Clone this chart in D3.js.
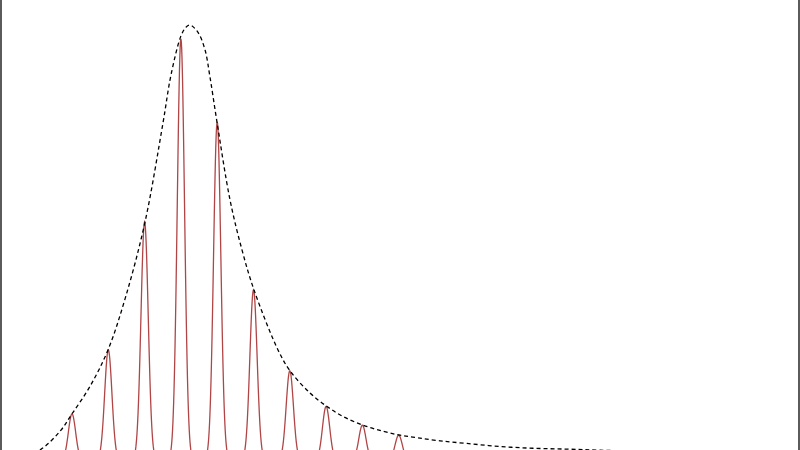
<!DOCTYPE html>
<html>
<head>
<meta charset="utf-8">
<script src="https://cdn.jsdelivr.net/npm/d3@7"></script>
<style>
  html, body { margin: 0; padding: 0; background: #fff; overflow: hidden; }
  svg { display: block; }
</style>
</head>
<body>
<svg id="chart" width="800" height="450"></svg>
<script>
// Rotational line positions (J) and their peak intensities (normalised)
const lineJ = [1, 2, 3, 4, 5, 6, 7, 8, 9, 10, 11];
const lineIntensity = [0.007, 0.106, 0.253, 0.547, 0.968, 0.777, 0.391, 0.205, 0.123, 0.080, 0.057];
const lineWidth = 0.1; // gaussian sigma in J units

// Envelope
const envJ = [0.0, 0.567, 1.118, 1.669, 2.0, 2.5, 2.992, 3.488, 4.011, 4.507, 4.727, 5.003, 5.140, 5.250,
  5.471, 5.664, 5.802, 5.994, 6.353, 6.683, 7.014, 7.675, 8.006, 8.557, 9.025, 9.466, 10.017, 10.568,
  11.036, 11.532, 12.138, 12.882, 13.791, 14.700, 15.636, 16.545, 17.92, 19.3, 22.05];
const envI = [0.001, 0.006, 0.023, 0.066, 0.106, 0.170, 0.253, 0.378, 0.547, 0.775, 0.885, 0.975, 0.995, 1.0,
  0.983, 0.943, 0.880, 0.777, 0.598, 0.483, 0.391, 0.253, 0.205, 0.154, 0.123, 0.100, 0.080, 0.066,
  0.057, 0.051, 0.044, 0.038, 0.031, 0.027, 0.025, 0.0225, 0.0195, 0.017, 0.014];

const svg = d3.select("#chart");
const W = 800, H = 450;

const x = d3.scaleLinear().domain([0, 22]).range([-0.6, 798]);
const y = d3.scaleLinear().domain([0, 1]).range([460, 25]);

// spectrum trace: sum of gaussian lines sampled along J
const samples = d3.range(0, 22.0001, 0.01).map(j => {
  let v = 0;
  lineJ.forEach((c, i) => {
    const d = (j - c) / lineWidth;
    v += lineIntensity[i] * Math.exp(-0.5 * d * d);
  });
  return [j, v];
});

svg.append("path")
  .datum(samples)
  .attr("fill", "none")
  .attr("stroke", "#b04546")
  .attr("stroke-width", 1.3)
  .attr("d", d3.line().x(d => x(d[0])).y(d => y(d[1])));

svg.append("path")
  .datum(envJ.map((j, i) => [j, envI[i]]))
  .attr("fill", "none")
  .attr("stroke", "#000")
  .attr("stroke-width", 1.3)
  .attr("stroke-dasharray", "4,3")
  .attr("d", d3.line().curve(d3.curveCatmullRom.alpha(0.5)).x(d => x(d[0])).y(d => y(d[1])));

// frame edges visible at left and right
svg.append("line").attr("x1", 1).attr("x2", 1).attr("y1", 0).attr("y2", H)
  .attr("stroke", "#333").attr("stroke-width", 1.6);
svg.append("line").attr("x1", 799).attr("x2", 799).attr("y1", 0).attr("y2", H)
  .attr("stroke", "#333").attr("stroke-width", 1.6);
</script>
</body>
</html>
